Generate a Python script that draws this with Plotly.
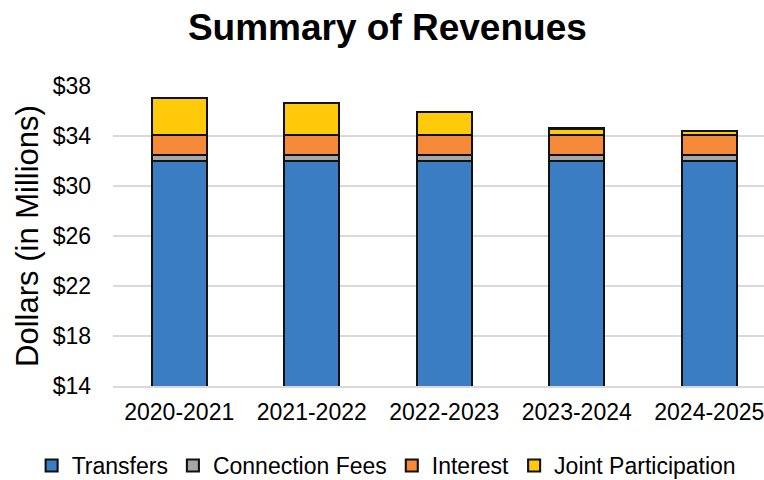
import plotly.graph_objects as go

# Fiscal years and revenue components (millions of dollars)
years = ["2020-2021", "2021-2022", "2022-2023", "2023-2024", "2024-2025"]
transfers = [32.0, 32.0, 32.0, 32.0, 32.0]
connection_fees = [0.45, 0.45, 0.45, 0.45, 0.45]
interest = [1.6, 1.6, 1.6, 1.6, 1.6]
joint_participation = [3.0, 2.6, 1.85, 0.55, 0.35]

y_ticks = [14, 18, 22, 26, 30, 34, 38]
y_tick_labels = ["$14", "$18", "$22", "$26", "$30", "$34", "$38"]

series = [
    ("Transfers", transfers, "#3A7DC2"),
    ("Connection Fees", connection_fees, "#A6A6A6"),
    ("Interest", interest, "#F58A3B"),
    ("Joint Participation", joint_participation, "#FFCA0A"),
]

fig = go.Figure()
for name, vals, color in series:
    fig.add_trace(go.Bar(
        x=years, y=vals, name=name,
        marker=dict(color=color, line=dict(color="#111111", width=2.1)),
        width=0.415,
    ))

fig.update_layout(
    barmode="stack",
    width=764, height=480,
    margin=dict(l=113, r=0, t=86, b=94, autoexpand=False),
    paper_bgcolor="white", plot_bgcolor="white",
    font=dict(family="Arial, Liberation Sans, sans-serif", color="#000000"),
    title=dict(
        text="<b>Summary of Revenues</b>",
        font=dict(size=37, color="#000000"),
        x=0.507, xref="container", xanchor="center",
        y=0.944, yref="container", yanchor="middle",
    ),
    xaxis=dict(
        range=[-0.5, 4.413],
        tickfont=dict(size=23),
        showline=True, linecolor="#D9D9D9", linewidth=2,
        ticks="", showgrid=False,
        ticklabelstandoff=4,
    ),
    yaxis=dict(
        range=[14, 38],
        tickvals=y_ticks, ticktext=y_tick_labels,
        tickfont=dict(size=23),
        showgrid=True, gridcolor="#D9D9D9", gridwidth=2,
        zeroline=False, showline=False, ticks="",
        ticklabelstandoff=21,
        title=dict(text="Dollars (in Millions)", font=dict(size=31), standoff=4),
    ),
    legend=dict(
        orientation="h",
        xref="paper", x=-0.125, xanchor="left",
        yref="paper", y=-0.265, yanchor="middle",
        font=dict(size=23),
        traceorder="normal",
        itemwidth=30,
    ),
    bargap=0.585,
)

fig.write_html("out.html")
